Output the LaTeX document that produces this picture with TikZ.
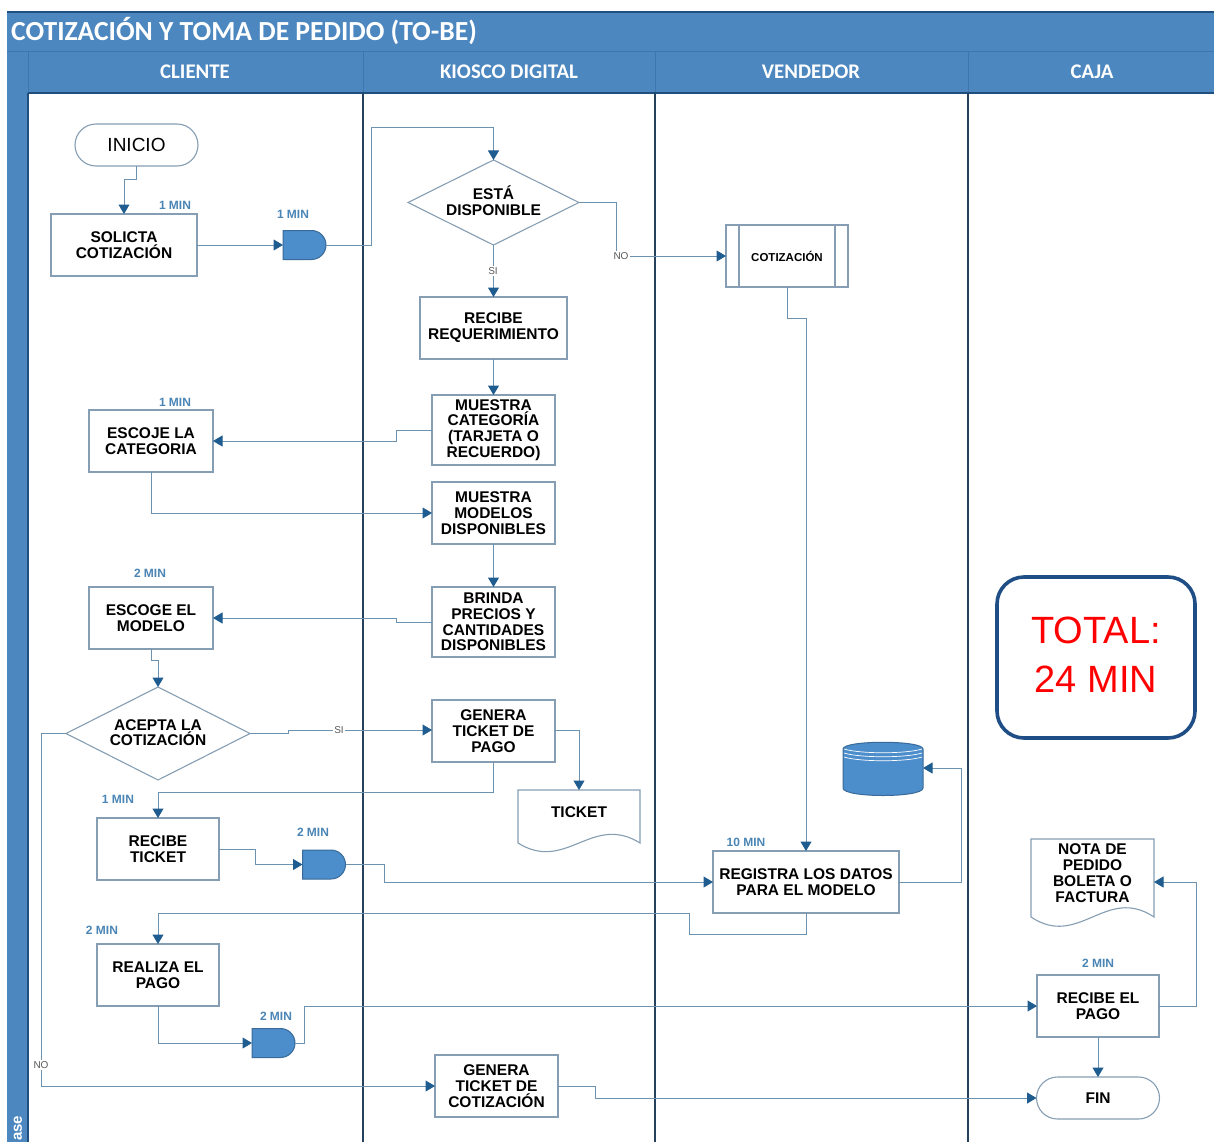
\documentclass[tikz,border=0pt]{standalone}
\usepackage{fontspec}
\setmainfont{Liberation Sans}
\newfontfamily\titlefont{Carlito}
\usetikzlibrary{arrows.meta,shapes.geometric,shapes.misc}
\definecolor{band}{HTML}{4C87BF}
\definecolor{bandline}{HTML}{3F76AB}
\definecolor{bandtop}{HTML}{1E4F7E}
\definecolor{lane}{HTML}{24415E}
\definecolor{conn}{HTML}{6C92B0}
\definecolor{tip}{HTML}{1F5C8F}
\definecolor{boxline}{HTML}{859EB3}
\definecolor{gatefill}{HTML}{4C8DCB}
\definecolor{timeblue}{HTML}{4A85B5}
\definecolor{totline}{HTML}{1F4E86}
\tikzset{
  x=1pt,y=-1pt,
  lanerule/.style={draw=lane,line width=1.6pt},
  conector/.style={draw=conn,line width=1pt,-{Triangle[length=9.5pt,width=11pt,fill=tip,color=tip]}},
  box/.style={draw=boxline,line width=1.1pt,fill=white,align=center,inner sep=0pt,outer sep=0pt,
    font=\bfseries\fontsize{15.5}{15.8}\selectfont,text=black},
  terminal/.style={box,rounded rectangle,rounded rectangle arc length=180},
  decision/.style={box,diamond,aspect=2},
  gatebox/.style={rounded rectangle,rounded rectangle west arc=none,fill=gatefill,draw=gatefill!75!black,
    line width=1pt,inner sep=0pt,outer sep=0pt,minimum width=43pt,minimum height=29pt},
  ghost/.style={inner sep=0pt,outer sep=0pt,align=center,font=\bfseries\fontsize{15.5}{15.8}\selectfont,text=black},
  timelabel/.style={text=timeblue,font=\bfseries\fontsize{12}{13}\selectfont,inner sep=0pt},
  flowlabel/.style={fill=white,text=black!65,font=\fontsize{10}{11}\selectfont,inner sep=1pt},
  bandtext/.style={text=white,font=\titlefont\bfseries\fontsize{20.8}{22}\selectfont,inner sep=0pt},
}
\begin{document}
\begin{tikzpicture}
\useasboundingbox (0,0) rectangle (1214,1142);
\clip (0,0) rectangle (1214,1142);
% bands
\fill[band] (7,12) rectangle (1214,93);
\fill[band] (7,93) rectangle (28,1142);
\draw[bandtop,line width=2pt] (7,12) -- (1214,12);
\draw[bandline,line width=1pt] (7,52) -- (1214,52);
\draw[bandline,line width=1pt] (28,52) -- (28,93);
\draw[bandline,line width=1pt] (363,52) -- (363,93);
\draw[bandline,line width=1pt] (655,52) -- (655,93);
\draw[bandline,line width=1pt] (968,52) -- (968,93);
\draw[bandtop,line width=1.6pt] (28,93) -- (1214,93);
\draw[bandtop,line width=1.6pt] (28,93) -- (28,1142);
\draw[lanerule] (363,93) -- (363,1142);
\draw[lanerule] (655,93) -- (655,1142);
\draw[lanerule] (968,93) -- (968,1142);
\node[bandtext,anchor=west,font=\titlefont\bfseries\fontsize{27.6}{30}\selectfont] (titulo) at (11,31) {COTIZACIÓN Y TOMA DE PEDIDO (TO-BE)};
\node[bandtext] (cl) at (195,72) {CLIENTE};
\node[bandtext] (ki) at (509,72) {KIOSCO DIGITAL};
\node[bandtext] (ve) at (811,72) {VENDEDOR};
\node[bandtext] (ca) at (1092,72) {CAJA};
\node[bandtext,rotate=90,anchor=west,font=\bfseries\fontsize{15}{16}\selectfont] (fase) at (18,1141) {ase};
% nodes
\node[terminal,minimum width=123pt,minimum height=42pt,font=\fontsize{19}{20}\selectfont] (inicio) at (136.5,145) {INICIO};
\node[box,minimum width=146pt,minimum height=62pt] (sol) at (124,245) {SOLICTA\\COTIZACIÓN};
\node[gatebox] (g1) at (304.5,245) {};
\node[decision,minimum width=171pt,minimum height=85pt] (d1) at (493.5,202.5) {ESTÁ\\DISPONIBLE\rule[-3pt]{0pt}{0pt}};
\node[box,minimum width=147pt,minimum height=62pt] (rr) at (493.5,328) {RECIBE\\REQUERIMIENTO};
\node[box,minimum width=123pt,minimum height=70pt] (mc) at (493.5,430) {MUESTRA\\CATEGORÍA\\(TARJETA O\\RECUERDO)};
\node[box,minimum width=123pt,minimum height=62pt] (mm) at (493.5,513) {MUESTRA\\MODELOS\\DISPONIBLES};
\node[box,minimum width=123pt,minimum height=70pt] (bp) at (493.5,622) {BRINDA\\PRECIOS Y\\CANTIDADES\\DISPONIBLES};
\node[box,minimum width=123pt,minimum height=62pt] (gt) at (493.5,731) {GENERA\\TICKET DE\\PAGO};
\node[ghost,minimum width=122pt,minimum height=53pt] (tk) at (579,816.5) {};
\node[box,minimum width=124pt,minimum height=62pt] (ec) at (151,441) {ESCOJE LA\\CATEGORIA};
\node[box,minimum width=124pt,minimum height=62pt] (em) at (151,618) {ESCOGE EL\\MODELO};
\node[decision,minimum width=184pt,minimum height=93pt] (d2) at (158,733.5) {ACEPTA LA\\COTIZACIÓN\rule[-2pt]{0pt}{0pt}};
\node[box,minimum width=122pt,minimum height=62pt] (rt) at (158,849) {RECIBE\\TICKET};
\node[gatebox] (g2) at (324,864.5) {};
\node[box,minimum width=122pt,minimum height=62pt] (rp) at (158,975) {REALIZA EL\\PAGO};
\node[gatebox] (g3) at (273.5,1043) {};
\node[box,minimum width=123pt,minimum height=62pt] (gc) at (496.5,1086) {GENERA\\TICKET DE\\COTIZACIÓN};
\node[box,minimum width=122pt,minimum height=62pt,font=\bfseries\fontsize{11.5}{13}\selectfont] (co) at (787,256) {COTIZACIÓN};
\node[box,minimum width=186pt,minimum height=62pt] (re) at (806,882) {REGISTRA LOS DATOS\\PARA EL MODELO};
\node[inner sep=0pt,outer sep=0pt,minimum width=80pt,minimum height=53pt] (db) at (883,768.5) {};
\node[ghost,minimum width=123pt,minimum height=78pt] (no) at (1092.5,878) {};
\node[box,minimum width=122pt,minimum height=62pt] (pa) at (1098,1006) {RECIBE EL\\PAGO};
\node[terminal,minimum width=123pt,minimum height=42pt] (fi) at (1098,1098) {FIN};
% subprocess bars
\draw[draw=boxline,line width=1.1pt] ([xshift=13pt]co.north west) -- ([xshift=13pt]co.south west);
\draw[draw=boxline,line width=1.1pt] ([xshift=-13pt]co.north east) -- ([xshift=-13pt]co.south east);
% documents
\draw[draw=boxline,line width=1.1pt,fill=white] (tk.north west) -- (tk.north east) -- (tk.south east)
  .. controls +(-48,-30) and +(48,30) .. (tk.south west) -- cycle;
\node[ghost] (tkt) at (579,812) {TICKET};
\draw[draw=boxline,line width=1.1pt,fill=white] (no.north west) -- (no.north east) -- (no.south east)
  .. controls +(-48,-32) and +(48,32) .. (no.south west) -- cycle;
\node[ghost] (not) at (1092.5,873) {NOTA DE\\PEDIDO\\BOLETA O\\FACTURA};
% database
\draw[fill=gatefill,draw=gatefill!75!black,line width=1pt] (843,749) .. controls (843,740) and (923,740) .. (923,749)
  -- (923,788) .. controls (923,798) and (843,798) .. (843,788) -- cycle;
\draw[white,line width=.7pt] (844,749) .. controls (860,754) and (906,754) .. (922,749);
\draw[white,line width=.7pt] (844,753) .. controls (860,758) and (906,758) .. (922,753);
\draw[white,line width=.7pt] (844,757) .. controls (860,762) and (906,762) .. (922,757);
% waypoints and connectors
\coordinate (w1) at (371,128);
\coordinate (w2) at (616,256);
\coordinate (w3) at (396,441);
\coordinate (w4) at (396,618);
\coordinate (w6) at (288,730);
\coordinate (w7) at (41,1086);
\coordinate (w8) at (579,730);
\coordinate (w9) at (158,792);
\coordinate (w10) at (255,864.5);
\coordinate (w11) at (384,882);
\coordinate (w12) at (806,318);
\coordinate (w13) at (961,768);
\coordinate (w14) at (689,934);
\coordinate (w15) at (158,913);
\coordinate (w16) at (158,1043);
\coordinate (w17) at (304,1006);
\coordinate (w18) at (1196,882);
\coordinate (w19) at (595,1098);
\coordinate (w20) at (158,660);
\draw[conector] (inicio.south) -- ++(0,14) -| (sol.north);
\draw[conector] (sol.east) -- (g1.west);
\draw[conector] (g1.east) -| (w1) -| (d1.north);
\draw[conector] (d1.east) -| (w2) -- (co.west);
\draw[conector] (d1.south) -- (rr.north);
\draw[conector] (rr.south) -- (mc.north);
\draw[conector] (mc.west) -| (w3) -- (ec.east);
\draw[conector] (ec.south) |- (mm.west);
\draw[conector] (mm.south) -- (bp.north);
\draw[conector] (bp.west) -| (w4) -- (em.east);
\draw[conector] (em.south) |- (w20) -- (d2.north);
\draw[conector] (d2.east) -| (w6) -- (gt.west |- w6);
\draw[conector] (d2.west) -| (w7) -- (gc.west);
\draw[conector] (gt.east |- w8) -- (w8) -- (tk.north);
\draw[conector] (gt.south) |- (w9) -- (rt.north);
\draw[conector] (rt.east) -| (w10) -- (g2.west);
\draw[conector] (g2.east) -| (w11) -- (re.west);
\draw[conector] (co.south) |- (w12) -- (re.north);
\draw[conector] (re.east) -| (w13) -- (db.east |- w13);
\draw[conector] (re.south) |- (w14) |- (w15) -- (rp.north);
\draw[conector] (rp.south) -- (w16) -- (g3.west);
\draw[conector] (g3.east) -| (w17) -- (pa.west);
\draw[conector] (pa.east) -| (w18) -- (no.east |- w18);
\draw[conector] (pa.south) -- (fi.north);
\draw[conector] (gc.east) -| (w19) -- (fi.west);
% flow labels
\node[flowlabel] (f1) at (493,271) {SI};
\node[flowlabel] (f2) at (621,256) {NO};
\node[flowlabel] (f3) at (339,730) {SI};
\node[flowlabel] (f4) at (41,1065) {NO};
% times
\node[timelabel] (t1) at (175,205) {1 MIN};
\node[timelabel] (t2) at (293,214) {1 MIN};
\node[timelabel] (t3) at (175,402) {1 MIN};
\node[timelabel] (t4) at (150,573) {2 MIN};
\node[timelabel] (t5) at (118,799) {1 MIN};
\node[timelabel] (t6) at (313,832) {2 MIN};
\node[timelabel] (t7) at (102,930) {2 MIN};
\node[timelabel] (t8) at (276,1016) {2 MIN};
\node[timelabel] (t9) at (746,842) {10 MIN};
\node[timelabel] (t10) at (1098,963) {2 MIN};
% total
\node[draw=totline,line width=3.6pt,rounded corners=27pt,fill=white,text=red,align=center,
  minimum width=198pt,minimum height=161pt,inner sep=0pt,
  font=\fontsize{38}{49}\selectfont] (total) at (1096,657.5) {TOTAL:\\24 MIN\rule[-5pt]{0pt}{0pt}};
\end{tikzpicture}
\end{document}
